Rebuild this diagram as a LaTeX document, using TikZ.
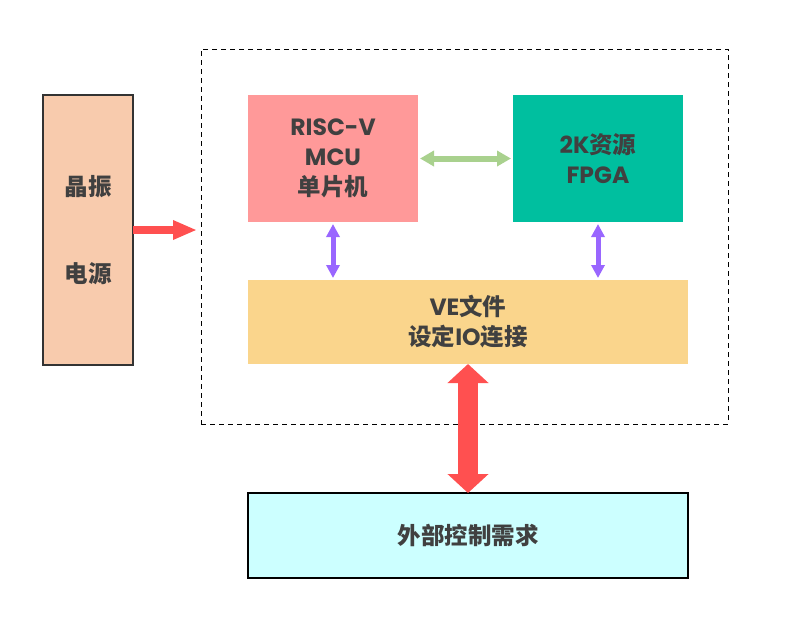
\documentclass[tikz,border=0pt]{standalone}
\usepackage{fontspec}
\setmainfont{Poppins}
\newfontfamily\cjk{Noto Sans CJK SC}
\usetikzlibrary{arrows.meta}

\definecolor{txtgray}{HTML}{404040}
\definecolor{peach}{HTML}{F8CBAD}
\definecolor{mcupink}{HTML}{FF9999}
\definecolor{fpgateal}{HTML}{00BF9F}
\definecolor{veyellow}{HTML}{FAD58C}
\definecolor{extcyan}{HTML}{CCFFFF}
\definecolor{arrred}{HTML}{FF5050}
\definecolor{arrgreen}{HTML}{A9D18E}
\definecolor{arrpurple}{HTML}{9966FF}

\newcommand{\zh}[1]{{\cjk #1}}

\begin{document}
\begin{tikzpicture}[x=1pt,y=-1pt,
  blk/.style={inner sep=0pt,outer sep=0pt,align=center,text=txtgray,
    font=\fontsize{23.5}{30}\selectfont\bfseries},
  redarr/.style={draw=arrred,line width=8pt,-{Triangle[width=18pt,length=24pt]}},
  greenarr/.style={draw=arrgreen,line width=6pt,{Triangle[width=15pt,length=14pt]}-{Triangle[width=15pt,length=14pt]}},
  purplearr/.style={draw=arrpurple,line width=5pt,{Triangle[width=13pt,length=13pt]}-{Triangle[width=13pt,length=13pt]}},
  bigarr/.style={draw=arrred,line width=20pt,{Triangle[width=40pt,length=19pt]}-{Triangle[width=40pt,length=19pt]}}]

\useasboundingbox (0,0) rectangle (797,633);

\node[draw=black,dashed,dash pattern=on 5pt off 4pt,line width=1pt,
  minimum width=527pt,minimum height=375pt,outer sep=0pt] (frame) at (464.5,236.5) {};

\node[blk,draw=txtgray!80!black,line width=1.5pt,fill=peach,minimum width=90pt,minimum height=270pt]
  (osc) at (88,230) {\zh{晶振}\\[57pt]\zh{电源}};
\node[blk,fill=mcupink,minimum width=170pt,minimum height=127pt]
  (mcu) at (333,158.5) {RISC-V\\MCU\\\zh{单片机}};
\node[blk,fill=fpgateal,minimum width=170pt,minimum height=127pt]
  (fpga) at (598,158.5) {2K\zh{资源}\\FPGA};
\node[blk,fill=veyellow,minimum width=440pt,minimum height=84pt]
  (ve) at (468,322) {VE\zh{文件}\\\zh{设定}IO\zh{连接}};
\node[blk,draw=black,line width=1.5pt,fill=extcyan,minimum width=440pt,minimum height=85pt]
  (ext) at (468,535.5) {\zh{外部控制需求}};

\draw[redarr] (osc.east) -- ([xshift=-4pt]osc.east -| frame.west);
\draw[greenarr,shorten <=2pt,shorten >=2pt] (mcu.east) -- (fpga.west);
\draw[purplearr,shorten <=2pt,shorten >=2pt] (mcu.south) -- (mcu.south |- ve.north);
\draw[purplearr,shorten <=2pt,shorten >=2pt] (fpga.south) -- (fpga.south |- ve.north);
\draw[bigarr] (ve.south) -- (ext.north);

\end{tikzpicture}
\end{document}
